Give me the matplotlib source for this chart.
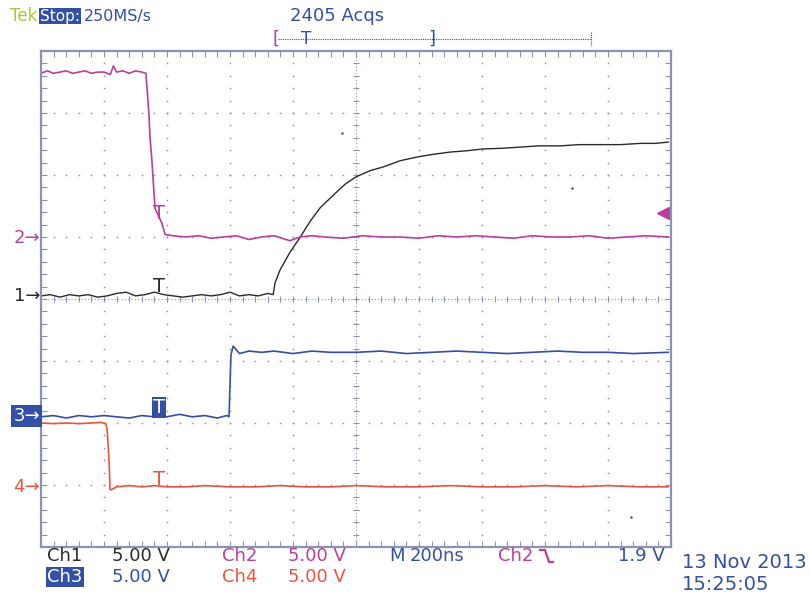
"""
Tek scope screenshot: four channel switching waveforms
"""

import matplotlib
matplotlib.use("Agg")
import matplotlib.pyplot as plt
from matplotlib.lines import Line2D

NS_PER_DIV = 200.0
V_PER_DIV = 5.0

# channel ground positions on screen (divisions from center)
ch_offset = {"ch1": 0.05, "ch2": 1.0, "ch3": -1.9, "ch4": -3.03}

# Ch1 (black) - RC style rise
ch1_t = [0, 30, 60, 90, 120, 150, 180, 210, 240, 270, 300, 330, 360, 390, 420,
         450, 480, 510, 540, 570, 600, 630, 660, 690, 720, 737,
         743, 759, 790, 822, 854, 886, 927, 965, 1000, 1045, 1086, 1140, 1194,
         1240, 1299, 1350, 1403, 1460, 1521, 1580, 1648, 1710, 1775, 1840,
         1902, 1950, 1991]
ch1_v = [0.0, 0.1, -0.1, 0.1, 0.0, 0.1, -0.1, 0.0, 0.2, 0.3, 0.0, 0.1, 0.3,
         0.1, 0.0, -0.1, 0.0, 0.1, 0.0, 0.1, 0.3, 0.0, 0.1, 0.0, 0.2, 0.1,
         1.05, 2.1, 3.5, 4.7, 6.0, 7.1, 8.1, 9.0, 9.6, 10.1, 10.4, 10.9, 11.2,
         11.4, 11.6, 11.7, 11.85, 11.9, 12.0, 12.1, 12.1, 12.2, 12.2, 12.2,
         12.3, 12.3, 12.4]

# Ch2 (magenta) - falling edge, trigger source
ch2_t = [0, 20, 40, 60, 80, 100, 120, 140, 160, 180, 200, 220, 230, 240, 260,
         280, 300, 320, 333, 337, 343, 346, 352, 356, 362, 384, 394,
         420, 460, 500, 540, 580, 620, 660, 700, 740, 790, 822, 860, 900,
         960, 1020, 1080, 1140, 1200, 1260, 1320, 1380, 1440, 1500, 1560,
         1620, 1680, 1740, 1800, 1860, 1920, 1991]
ch2_v = [13.2, 13.4, 13.2, 13.3, 13.4, 13.2, 13.3, 13.4, 13.2, 13.3, 13.3,
         13.1, 13.8, 13.3, 13.4, 13.2, 13.4, 13.3, 13.2, 11.9, 9.7, 8.1, 6.2,
         4.6, 2.3, 1.1, 0.2,
         0.1, 0.0, 0.1, -0.1, 0.0, 0.1, -0.2, 0.0, 0.1, -0.3, 0.0, 0.1, 0.0,
         -0.1, 0.1, 0.0, 0.0, -0.1, 0.1, 0.0, 0.1, 0.0, -0.1, 0.1, 0.0, 0.0,
         0.1, -0.1, 0.0, 0.1, 0.0]

# Ch3 (blue) - rising step
ch3_t = [0, 40, 80, 120, 160, 200, 240, 280, 320, 360, 400, 440, 480, 520,
         560, 590, 597, 603, 610, 630, 660, 700, 740, 800, 860, 920, 1000,
         1080, 1160, 1240, 1320, 1400, 1480, 1560, 1640, 1720, 1800, 1880,
         1991]
ch3_v = [0.0, 0.1, -0.1, 0.1, 0.0, 0.1, 0.0, -0.1, 0.1, 0.0, 0.0, 0.2, 0.0,
         0.1, -0.1, 0.1, 0.0, 5.0, 5.7, 5.1, 5.3, 5.2, 5.3, 5.1, 5.3, 5.2,
         5.2, 5.3, 5.1, 5.2, 5.3, 5.2, 5.1, 5.2, 5.3, 5.2, 5.2, 5.1, 5.2]

# Ch4 (red) - falling step
ch4_t = [0, 40, 80, 120, 160, 190, 206, 210, 216, 219, 222, 240, 280, 320,
         360, 400, 460, 520, 600, 680, 760, 840, 920, 1000, 1100, 1200, 1300,
         1400, 1500, 1600, 1700, 1800, 1900, 1991]
ch4_v = [5.15, 5.1, 5.15, 5.1, 5.15, 5.2, 5.1, 4.6, 2.2, -0.2, -0.25, 0.0,
         0.1, 0.0, 0.1, 0.0, 0.0, 0.1, 0.0, 0.0, 0.1, 0.0, 0.0, 0.1, 0.0,
         0.0, 0.1, 0.0, 0.0, 0.1, 0.0, 0.1, 0.0, 0.0]

# stray pixels on the screen (ns, div)
stray_t = [955, 1686, 1873]
stray_y = [2.68, 1.79, -3.52]

trig_t = 375

C_BLACK = "#2b2b2b"
C_MAG = "#b8409c"
C_BLUE = "#3450a4"
C_RED = "#e8553e"
C_GRID = "#8b93b5"
C_TEK = "#a8c83c"

W, H = 811, 597
fig = plt.figure(figsize=(W / 100, H / 100), dpi=100)
fig.patch.set_facecolor("white")

# screen area in pixels: x 41..671, y 51..547
ax = fig.add_axes([41 / W, (H - 547) / H, 630 / W, 496 / H])
ax.set_xlim(0, 10 * NS_PER_DIV)
ax.set_ylim(-4, 4)

for s in ax.spines.values():
    s.set_color(C_GRID)
    s.set_linewidth(1.6)

ax.set_xticks([i * NS_PER_DIV for i in range(11)])
ax.set_yticks(range(-4, 5))
ax.set_xticks([i * NS_PER_DIV / 5 for i in range(51)], minor=True)
ax.set_yticks([i / 5 - 4 for i in range(41)], minor=True)
ax.tick_params(which="both", direction="in", top=True, right=True,
               length=4, width=0.8, color=C_GRID,
               labelbottom=False, labelleft=False)

# dotted graticule
sub_y = [i / 5 - 4 for i in range(1, 40)]
sub_x = [i * NS_PER_DIV / 5 for i in range(1, 50)]
for i in range(1, 10):
    if i == 5:
        continue
    ax.plot([i * NS_PER_DIV] * len(sub_y), sub_y, ls="none", marker="s",
            ms=1.1, mec="none", mfc=C_GRID)
for j in range(-3, 4):
    if j == 0:
        continue
    ax.plot(sub_x, [j] * len(sub_x), ls="none", marker="s", ms=1.1,
            mec="none", mfc=C_GRID)

# center crosshair
ax.axvline(5 * NS_PER_DIV, color=C_GRID, lw=0.8, ls=(0, (1, 2)))
ax.axhline(0, color=C_GRID, lw=0.8, ls=(0, (1, 2)))
ax.plot([5 * NS_PER_DIV] * len(sub_y), sub_y, ls="none", marker="_", ms=5,
        mew=0.8, color=C_GRID)
ax.plot(sub_x, [0] * len(sub_x), ls="none", marker="|", ms=5, mew=0.8,
        color=C_GRID)


def to_div(volts, key):
    return [ch_offset[key] + v / V_PER_DIV for v in volts]


ax.plot(ch1_t, to_div(ch1_v, "ch1"), color=C_BLACK, lw=1.0)
ax.plot(ch2_t, to_div(ch2_v, "ch2"), color=C_MAG, lw=1.2)
ax.plot(ch3_t, to_div(ch3_v, "ch3"), color=C_BLUE, lw=1.2)
ax.plot(ch4_t, to_div(ch4_v, "ch4"), color=C_RED, lw=1.2)
ax.plot(stray_t, stray_y, ls="none", marker="s", ms=2, mec="none",
        mfc=C_BLACK)

# trigger markers on traces
tf = dict(ha="center", va="bottom", fontsize=14, family="DejaVu Sans")
ax.text(trig_t, ch_offset["ch1"] + 0.0, "T", color=C_BLACK, **tf)
ax.text(trig_t, 1.0 + 1.9 / V_PER_DIV - 0.15, "T", color=C_MAG, **tf)
ax.text(trig_t, ch_offset["ch4"] - 0.04, "T", color=C_RED, **tf)
ax.text(trig_t, ch_offset["ch3"] + 0.0, "T", color="white",
        bbox=dict(boxstyle="square,pad=0.05", fc=C_BLUE, ec="none"), **tf)

# trigger level arrow on the right
ax.plot([1975], [1.0 + 1.9 / V_PER_DIV], marker="<", ms=8, color=C_MAG,
        clip_on=False)


def ftext(x, y, s, color, size=13, **kw):
    fig.text(x / W, 1 - y / H, s, color=color, fontsize=size,
             va="center", family="DejaVu Sans", **kw)


# channel ground markers on the left
ftext(40, 238, "2\u2192", C_MAG, ha="right")
ftext(40, 296, "1\u2192", C_BLACK, ha="right")
ftext(40, 416, "3\u2192", "white", ha="right",
      bbox=dict(boxstyle="square,pad=0.12", fc=C_BLUE, ec="none"))
ftext(40, 487, "4\u2192", C_RED, ha="right")

# header
ftext(10, 16, "Tek", C_TEK, size=12)
ftext(40, 16, "Stop:", "white", size=11,
      bbox=dict(boxstyle="square,pad=0.06", fc=C_BLUE, ec="none"))
ftext(84, 16, "250MS/s", C_BLUE, size=11.5)
ftext(290, 16, "2405 Acqs", C_BLUE, size=13)

# record view bracket
fig.add_artist(Line2D([278 / W, 591 / W], [1 - 39 / H, 1 - 39 / H],
                      transform=fig.transFigure, color=C_BLUE, lw=0.8,
                      ls=(0, (1, 1))))
fig.add_artist(Line2D([591 / W, 591 / W], [1 - 32 / H, 1 - 46 / H],
                      transform=fig.transFigure, color=C_BLUE, lw=0.8,
                      ls=(0, (1, 1))))
ftext(272, 39, "[", C_MAG, size=13)
ftext(428, 39, "]", C_BLUE, size=13)
ftext(301, 39, "T", C_BLUE, size=12)

# footer
ftext(47, 556, "Ch1", C_BLACK)
ftext(112, 556, "5.00 V", C_BLACK)
ftext(222, 556, "Ch2", C_MAG)
ftext(288, 556, "5.00 V", C_MAG)
ftext(389, 556, "M", C_BLUE)
ftext(410, 556, "200ns", C_BLUE)
ftext(498, 556, "Ch2", C_MAG)
ftext(665, 556, "1.9 V", C_BLUE, ha="right")
ftext(47, 577, "Ch3", "white",
      bbox=dict(boxstyle="square,pad=0.08", fc=C_BLUE, ec="none"))
ftext(112, 577, "5.00 V", C_BLUE)
ftext(222, 577, "Ch4", C_RED)
ftext(288, 577, "5.00 V", C_RED)
ftext(682, 563, "13 Nov 2013", C_BLUE, size=14)
ftext(682, 585, "15:25:05", C_BLUE, size=14)

# falling edge glyph after "Ch2"
ex = [540, 545, 549, 553]
ey = [550, 550, 562, 562]
fig.add_artist(Line2D([x / W for x in ex], [1 - y / H for y in ey],
                      transform=fig.transFigure, color=C_MAG, lw=1.6))

fig.savefig("out.png", dpi=100)
